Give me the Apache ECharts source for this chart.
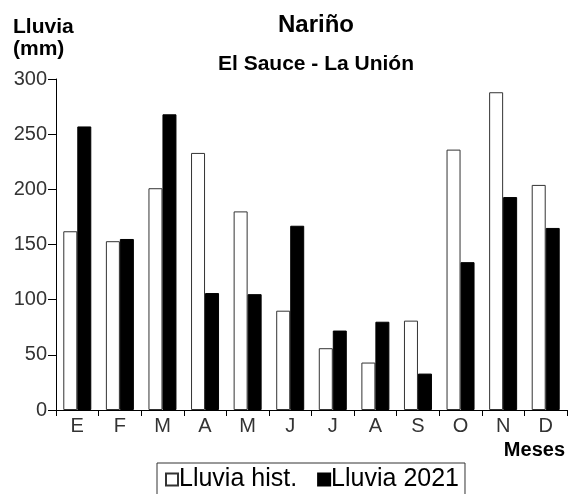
<!DOCTYPE html>
<html><head><meta charset="utf-8">
<script src="https://cdn.jsdelivr.net/npm/echarts@6/dist/echarts.min.js"></script>
<style>html,body{margin:0;padding:0;background:#fff}#c{width:570px;height:494px}</style>
</head><body><div id="c"></div>
<script>
const months = ['E','F','M','A','M','J','J','A','S','O','N','D'];
const lluviaHist = [162, 153, 201, 233, 180, 90, 56, 43, 81, 236, 288, 204];
const lluvia2021 = [257, 155, 268, 106, 105, 167, 72, 80, 33, 134, 193, 165];
const yTicks = [0, 50, 100, 150, 200, 250, 300];

const FONT = '"Liberation Sans", Arial, sans-serif';
const chart = echarts.init(document.getElementById('c'), null, {renderer: 'canvas'});
chart.setOption({
  animation: false,
  backgroundColor: '#fff',
  textStyle: {fontFamily: FONT},
  title: [
    {text: 'Nariño', left: 311, top: 8, textAlign: 'center',
     textStyle: {fontFamily: FONT, fontSize: 24, fontWeight: 'bold', color: '#000'}},
    {text: 'El Sauce - La Unión', left: 311, top: 49, textAlign: 'center',
     textStyle: {fontFamily: FONT, fontSize: 21, fontWeight: 'bold', color: '#000'}},
    {text: 'Lluvia\n(mm)', left: 8, top: 11,
     textStyle: {fontFamily: FONT, fontSize: 21, fontWeight: 'bold', color: '#000', lineHeight: 22}},
    {text: 'Meses', right: 0, top: 435,
     textStyle: {fontFamily: FONT, fontSize: 20, fontWeight: 'bold', color: '#000'}}
  ],
  legend: {
    left: 157, top: 463,
    icon: 'rect', itemWidth: 12, itemHeight: 12, itemGap: 20,
    borderColor: '#333', borderWidth: 1,
    padding: [4, 6, 10, 8],
    textStyle: {fontFamily: FONT, fontSize: 25, color: '#000', padding: [0, 0, 0, -4]},
    data: ['Lluvia hist.', 'Lluvia 2021']
  },
  grid: {left: 56, right: 3, top: 79, bottom: 84, containLabel: false},
  xAxis: {
    type: 'category', data: months,
    axisLine: {lineStyle: {color: '#000', width: 1}},
    axisTick: {show: true, length: 6, lineStyle: {color: '#000'}},
    axisLabel: {fontFamily: FONT, fontSize: 20, color: '#333', margin: 6}
  },
  yAxis: {
    type: 'value', min: yTicks[0], max: yTicks[yTicks.length - 1], interval: 50,
    splitLine: {show: false},
    axisLine: {show: true, lineStyle: {color: '#000', width: 1}},
    axisTick: {show: true, length: 8, lineStyle: {color: '#000'}},
    axisLabel: {fontFamily: FONT, fontSize: 20, color: '#333', margin: 9}
  },
  series: [
    {name: 'Lluvia hist.', type: 'bar', data: lluviaHist, barWidth: 14, barGap: '0%',
     itemStyle: {color: '#fff', borderColor: '#333', borderWidth: 1}},
    {name: 'Lluvia 2021', type: 'bar', data: lluvia2021, barWidth: 14, barGap: '0%',
     itemStyle: {color: '#000', borderColor: '#000', borderWidth: 1}}
  ]
});
</script></body></html>
